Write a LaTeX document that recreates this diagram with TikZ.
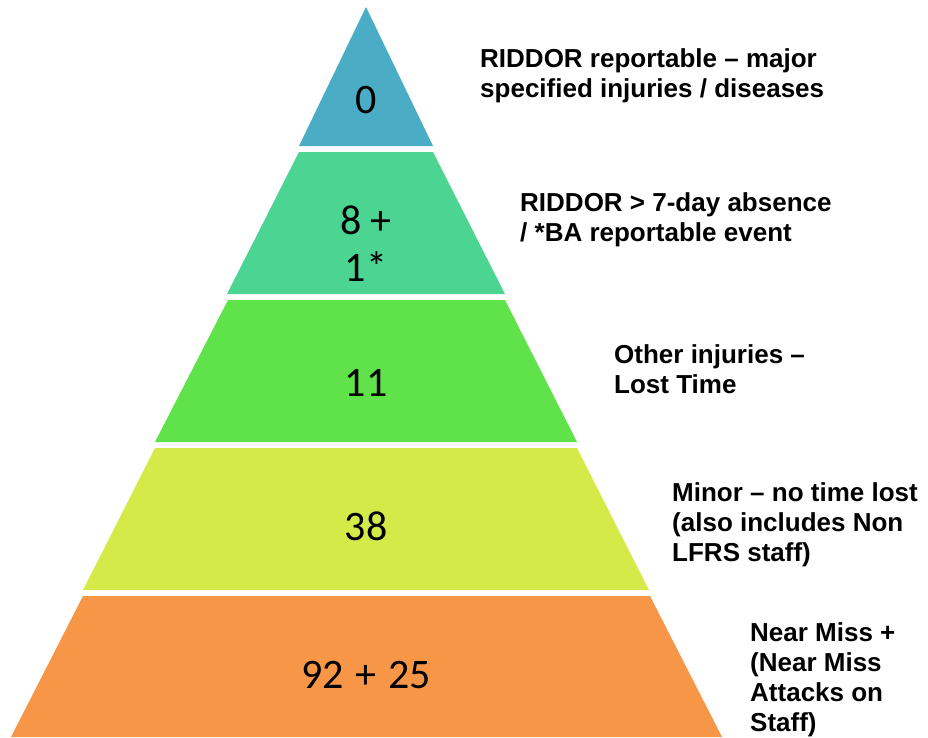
\documentclass[tikz,border=0pt]{standalone}
\usepackage{fontspec}
\setmainfont{Carlito}
\newfontfamily\labelfont[Ligatures=TeX]{Liberation Sans}

\definecolor{tierblue}{HTML}{4BACC6}
\definecolor{tierteal}{HTML}{4BD492}
\definecolor{tiergreen}{HTML}{60E24A}
\definecolor{tierlime}{HTML}{D4EA48}
\definecolor{tierorange}{HTML}{F79646}

\begin{document}
\begin{tikzpicture}[x=1pt, y=-1pt,
        count/.style={font=\fontsize{42}{47}\selectfont, align=center, anchor=base, inner sep=0pt},
        note/.style={font=\labelfont\bfseries\fontsize{26}{30}\selectfont, align=left, anchor=base west, inner sep=0pt}]
    \useasboundingbox (0,0) rectangle (928,737);

    % tiers, top to bottom
    \fill[tierblue] (366,7) -- (433,146) -- (299,146) -- cycle;
    \fill[tierteal] (299,152) -- (433,152) -- (505,294) -- (227,294) -- cycle;
    \fill[tiergreen] (228,300) -- (505,300) -- (577,442) -- (155,442) -- cycle;
    \fill[tierlime] (155,448) -- (577,448) -- (649,590) -- (83,590) -- cycle;
    \fill[tierorange] (83,596) -- (650,596) -- (722,737) -- (11,737) -- cycle;

    % counts (base = last line)
    \node[count] (c1) at (366,113) {0};
    \node[count] (c2) at (366,281) {8 +\\1*};
    \node[count] (c3) at (366,396) {11};
    \node[count] (c4) at (366,540) {38};
    \node[count] (c5) at (366,688) {92\hspace{0.28em}+\hspace{0.28em}25};

    % descriptions (base = last line)
    \node[note] (d1) at (480,97) {RIDDOR reportable -- major\\specified injuries / diseases};
    \node[note] (d2) at (520,241) {RIDDOR > 7-day absence\\/ *BA reportable event};
    \node[note] (d3) at (614,393) {Other injuries --\\Lost Time};
    \node[note] (d4) at (672,561) {Minor -- no time lost\\(also includes Non\\LFRS staff)};
    \node[note] (d5) at (750,731) {Near Miss +\\(Near Miss\\Attacks on\\Staff)};
\end{tikzpicture}
\end{document}
